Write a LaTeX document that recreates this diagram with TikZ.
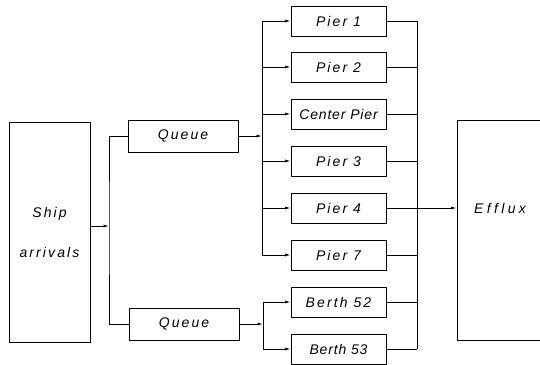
\documentclass[tikz,border=0pt]{standalone}
\usepackage{fontspec}
\usetikzlibrary{arrows.meta}
\newfontfamily\boxfont{Liberation Sans}[LetterSpace=15]
\newfontfamily\boxfonttight{Liberation Sans}[LetterSpace=6]
\newfontfamily\boxfontwide{Liberation Sans}[LetterSpace=24]

\begin{document}
\begin{tikzpicture}[x=1pt, y=-1pt, >={Latex[length=5.5pt,width=3pt]}, line width=0.9pt,
    box/.style={draw, rectangle, inner sep=0pt, font=\boxfont\itshape\fontsize{14}{16}\selectfont},
    pierbox/.style={box, minimum width=95pt, minimum height=30pt},
    queuebox/.style={box, minimum width=110pt, minimum height=32pt}]
    % Fix the page and cut off what runs past it
    \path[use as bounding box, clip] (0,0) rectangle (540,364);

    % Draw the source and the sink
    \node[box, minimum width=81pt, minimum height=220pt, align=center,
        font=\boxfont\itshape\fontsize{14}{40}\selectfont] (ship) at (49.5,232) {Ship\\arrivals};
    \node[box, minimum width=86pt, minimum height=220pt] (efflux) at (500,230) {};

    % Draw the queues
    \node[queuebox] (queue1) at (183,136) {Queue};
    \node[queuebox] (queue2) at (184,324) {Queue};

    % Draw the piers and berths
    \def\px{338.5}
    \foreach \name/\y/\txt in {pier1/21/Pier 1, pier2/67/Pier 2, pier3/161/Pier 3,
        pier4/208/Pier 4, pier7/255/Pier 7, berth52/302/Berth 52} {
        \node[pierbox] (\name) at (\px,\y) {\txt};
    }
    \node[pierbox, font=\boxfonttight\itshape\fontsize{14}{16}\selectfont] (pierC) at (\px,114) {Center Pier};
    \node[pierbox, font=\boxfonttight\itshape\fontsize{14}{16}\selectfont] (berth53) at (\px,349) {Berth 53};
    \node[font=\boxfontwide\itshape\fontsize{14}{16}\selectfont] (efflabel) at (efflux.center |- pier4) {Efflux};

    % Junction points
    \coordinate (split) at (109,226);
    \coordinate (hub1) at (262,136);
    \coordinate (hub2) at (263,324);
    \coordinate (merge) at (417,21);

    % Ship arrivals to the queues
    \draw[->] (ship.east |- split) -- (split);
    \draw (queue1.west) -| (split) |- (queue2.west);

    % Queues to the piers
    \draw[->] (queue1.east) -- (hub1);
    \draw (hub1 |- pier1.west) -- (hub1 |- pier7.west);
    \foreach \p in {pier1, pier2, pierC, pier3, pier4, pier7}
        \draw[->] (hub1 |- \p.west) -- (\p.west);

    \draw[->] (queue2.east) -- (hub2);
    \draw (hub2 |- berth52.west) -- (hub2 |- berth53.west);
    \foreach \p in {berth52, berth53}
        \draw[->] (hub2 |- \p.west) -- (\p.west);

    % Piers to the efflux
    \foreach \p in {pier1, pier2, pierC, pier3, pier4, pier7, berth52, berth53}
        \draw (\p.east) -- (\p.east -| merge);
    \draw (merge |- pier1.east) -- (merge |- berth53.east);
    \draw[->] (pier4.east) -- (pier4.east -| efflux.west);

\end{tikzpicture}
\end{document}
